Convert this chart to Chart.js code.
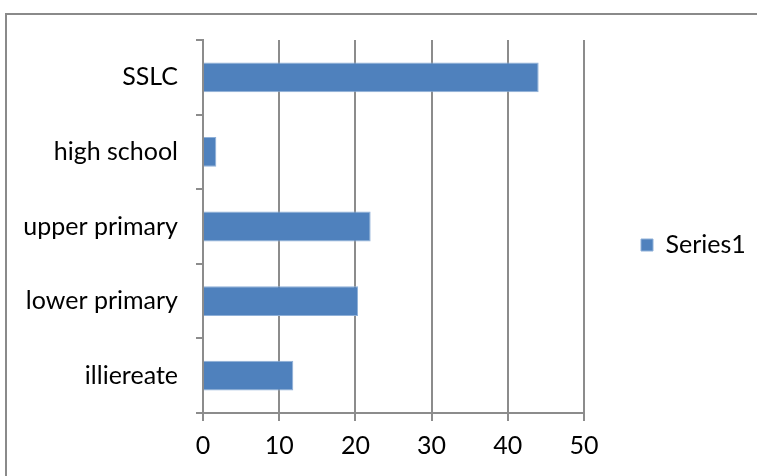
<!DOCTYPE html>
<html>
<head>
<meta charset="utf-8">
<script src="https://cdn.jsdelivr.net/npm/chart.js@4/dist/chart.umd.min.js"></script>
<style>
  body { margin: 0; background: #fff; }
  #wrap { width: 757px; height: 476px; }
</style>
</head>
<body>
<div id="wrap"><canvas id="chart" width="757" height="476"></canvas></div>
<script>
const categories = ["SSLC", "high school", "upper primary", "lower primary", "illiereate"];
const series1 = [44.05, 1.75, 22.0, 20.35, 11.85];
const seriesName = "Series1";
const xTicks = [0, 10, 20, 30, 40, 50];

const FONT = "Lato";
const FSIZE = 25;
const gridGray = "#8c8c8c";

// legend geometry: square should sit at x=641, plot right edge at x=584
const legendPad = 57;
const boxW = 12;
const m = document.createElement("canvas").getContext("2d");
m.font = FSIZE + "px " + FONT;
const textW = m.measureText(seriesName).width;
const legendWidth = legendPad + boxW + FSIZE / 2 + textW + 10;
const padRight = Math.max(0, 757 - 584 - legendWidth);

// outer frame like the office chart border
const framePlugin = {
    id: "frame",
    afterDraw(chart) {
        const c = chart.ctx;
        c.save();
        c.strokeStyle = "#8a8a8a";
        c.lineWidth = 2;
        c.strokeRect(6, 14, 800, 500);
        c.restore();
    }
};

new Chart(document.getElementById("chart").getContext("2d"), {
    type: "bar",
    data: {
        labels: categories,
        datasets: [{
            label: seriesName,
            data: series1,
            backgroundColor: "#4F81BD",
            borderColor: "#8FB0D8",
            borderWidth: 1,
            barPercentage: 0.4,
            categoryPercentage: 1.0
        }]
    },
    options: {
        indexAxis: "y",
        responsive: false,
        animation: false,
        layout: { padding: { left: 0, top: 14, right: padRight, bottom: 0 } },
        plugins: {
            legend: {
                position: "right",
                labels: {
                    font: { family: FONT, size: FSIZE },
                    color: "#000",
                    boxWidth: boxW,
                    boxHeight: boxW,
                    padding: legendPad
                }
            },
            tooltip: { enabled: false }
        },
        scales: {
            x: {
                min: 0,
                max: 50,
                afterBuildTicks: (scale) => { scale.ticks = xTicks.map(v => ({ value: v })); },
                afterFit: (scale) => { scale.height = 63; },
                ticks: {
                    font: { family: FONT, size: FSIZE },
                    color: "#000",
                    padding: 10
                },
                grid: {
                    color: gridGray,
                    lineWidth: 2,
                    tickLength: 8
                },
                border: { color: gridGray, width: 2 }
            },
            // empty spacer on top so the plot starts lower than the legend box
            xTop: {
                type: "linear",
                position: "top",
                min: 0,
                max: 50,
                afterFit: (scale) => { scale.height = 26; },
                ticks: { display: false },
                grid: { display: false },
                border: { display: false }
            },
            y: {
                afterFit: (scale) => { scale.width = 203; },
                ticks: {
                    font: { family: FONT, size: FSIZE },
                    color: "#000",
                    padding: 18
                },
                grid: {
                    color: gridGray,
                    lineWidth: 2,
                    drawOnChartArea: false,
                    tickLength: 7,
                    offset: true
                },
                border: { color: gridGray, width: 2 }
            }
        }
    },
    plugins: [framePlugin]
});
</script>
</body>
</html>
